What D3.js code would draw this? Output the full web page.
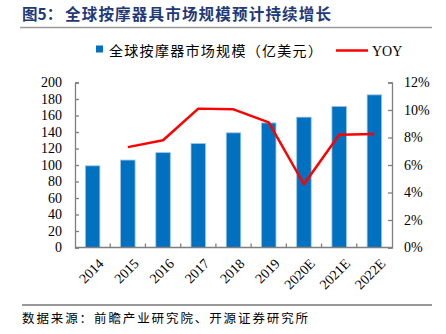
<!DOCTYPE html>
<html><head><meta charset="utf-8">
<script src="https://cdn.jsdelivr.net/npm/d3@7/dist/d3.min.js"></script>
<style>body{margin:0;background:#fff;}svg{display:block;}</style>
</head><body>
<svg id="c" width="446" height="334"></svg>
<script>
const categories = ["2014","2015","2016","2017","2018","2019","2020E","2021E","2022E"];
const marketSize = [99,106,115,126,139,151,158,171,185];
const yoy = [null,7.3,7.8,10.1,10.05,9.1,4.6,8.2,8.25];
const leftTicks = [0,20,40,60,80,100,120,140,160,180,200];
const rightTicks = [0,2,4,6,8,10,12];
const titlePrefix = "图5：";
const titleText = "全球按摩器具市场规模预计持续增长";
const sourceText = "数据来源：前瞻产业研究院、开源证券研究所";
const barLegend = "全球按摩器市场规模（亿美元）";
const lineLegend = "YOY";

const svg = d3.select("#c");
const L = 75, R = 392, T = 82.5, B = 247.5;
const serif = "'Liberation Serif','Times New Roman',serif";
const cjk = "'Noto Sans CJK SC',sans-serif";

// title
svg.append("text").attr("x",22).attr("y",20).text(titlePrefix)
  .attr("font-family",cjk).attr("font-weight","bold").attr("font-size",15.5).attr("fill","#1f3a78");
svg.append("text").attr("x",65).attr("y",20).text(titleText)
  .attr("font-family",cjk).attr("font-weight","bold").attr("font-size",15.5)
  .attr("letter-spacing",1.2).attr("fill","#1f3a78");
svg.append("line").attr("x1",20).attr("x2",432).attr("y1",27.5).attr("y2",27.5).attr("stroke","#999").attr("stroke-width",1.5);

const x = d3.scaleBand().domain(categories).range([L,R]);
const y = d3.scaleLinear().domain([0,200]).range([B,T]);
const y2 = d3.scaleLinear().domain([0,12]).range([B,T]);

// bars
const bw = 14.5;
svg.append("g").selectAll("rect").data(categories).join("rect")
  .attr("x",(d)=>x(d)+x.bandwidth()/2-bw/2)
  .attr("y",(d,i)=>y(marketSize[i]))
  .attr("width",bw)
  .attr("height",(d,i)=>B-y(marketSize[i]))
  .attr("fill","#0070c0").attr("stroke","#9cc3e6").attr("stroke-width",0.8);

// axes
const axisColor = "#7f7f7f";
const gl = svg.append("g").attr("transform",`translate(${L},0)`)
  .call(d3.axisLeft(y).tickValues(leftTicks).tickSize(-4).tickPadding(13).tickFormat(d3.format("d")));
const gr = svg.append("g").attr("transform",`translate(${R},0)`)
  .call(d3.axisRight(y2).tickValues(rightTicks).tickSize(-4).tickPadding(12).tickFormat(d=>d+"%"));
[gl,gr].forEach(g=>{
  g.select(".domain").attr("stroke",axisColor).attr("stroke-width",1.3);
  g.selectAll(".tick line").attr("stroke",axisColor).attr("stroke-width",1.3);
  g.selectAll("text").attr("font-family",serif).attr("font-size",14).attr("fill","#000");
});
gl.selectAll("text").attr("text-anchor","end");

// bottom axis
const gb = svg.append("g");
gb.append("line").attr("x1",L).attr("x2",R).attr("y1",B).attr("y2",B).attr("stroke",axisColor).attr("stroke-width",1.3);
gb.selectAll("line.t").data(categories.slice(1)).join("line").attr("class","t")
  .attr("x1",d=>x(d)).attr("x2",d=>x(d)).attr("y1",B).attr("y2",B-4)
  .attr("stroke",axisColor).attr("stroke-width",1.3);
gb.selectAll("text").data(categories).join("text")
  .attr("transform",d=>`translate(${x(d)+x.bandwidth()/2+5},${B+10}) rotate(-45)`)
  .attr("text-anchor","end").attr("dy","0.7em")
  .attr("font-family",serif).attr("font-size",14).text(d=>d);

// line
const pts = categories.map((c,i)=>({c,v:yoy[i]})).filter(p=>p.v!==null);
svg.append("path").datum(pts)
  .attr("d",d3.line().x(p=>x(p.c)+x.bandwidth()/2).y(p=>y2(p.v)))
  .attr("fill","none").attr("stroke","#ff0000").attr("stroke-width",2.5).attr("stroke-linejoin","round");

// legend
svg.append("rect").attr("x",96).attr("y",45.5).attr("width",7).attr("height",7).attr("fill","#0070c0");
svg.append("text").attr("x",109).attr("y",55.5).text(barLegend)
  .attr("font-family",cjk).attr("font-size",14).attr("letter-spacing",1.3).attr("fill","#000");
svg.append("line").attr("x1",336).attr("x2",368).attr("y1",50.5).attr("y2",50.5).attr("stroke","#ff0000").attr("stroke-width",2.5);
svg.append("text").attr("x",372).attr("y",55.5).text(lineLegend)
  .attr("font-family",serif).attr("font-size",14).attr("fill","#000");

// source
svg.append("line").attr("x1",22).attr("x2",432).attr("y1",305).attr("y2",305).attr("stroke","#333").attr("stroke-width",1);
svg.append("text").attr("x",22).attr("y",323).text(sourceText)
  .attr("font-family",cjk).attr("font-size",12.5).attr("letter-spacing",1.9).attr("fill","#000");
</script>
</body></html>
